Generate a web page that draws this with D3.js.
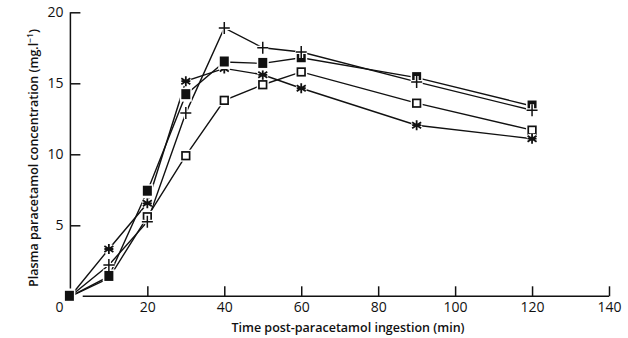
<!DOCTYPE html>
<html>
<head>
<meta charset="utf-8">
<script src="https://cdn.jsdelivr.net/npm/d3@7"></script>
<style>
  html, body { margin: 0; padding: 0; background: #fff; }
  svg { display: block; }
  text { font-family: "Open Sans", "DejaVu Sans", sans-serif; fill: #111; }
</style>
</head>
<body>
<svg id="chart" width="628" height="338"></svg>
<script>
// Sampling times (min)
const times = [0, 10, 20, 30, 40, 50, 60, 90, 120];

// Plasma paracetamol concentration (mg/l) for each treatment group
const filledSquare = [0, 1.4, 7.4, 14.2, 16.5, 16.4, 16.8, 15.4, 13.4];
const plusSign     = [0, 2.2, 5.25, 12.9, 18.9, 17.5, 17.2, 15.1, 13.1];
const openSquare   = [0, 1.27, 5.6, 9.9, 13.8, 14.9, 15.8, 13.6, 11.7];
const asterisk     = [0, 3.33, 6.55, 15.15, 16.05, 15.6, 14.65, 12.05, 11.1];

// Axis ticks
const xTicks = [20, 40, 60, 80, 100, 120, 140];
const yTicks = [5, 10, 15, 20];

const xLabel = "Time post-paracetamol ingestion (min)";
const yLabel = "Plasma paracetamol concentration (mg.l";

const svg = d3.select("#chart");

const x = d3.scaleLinear().domain([0, 140]).range([70.4, 609]);
const y = d3.scaleLinear().domain([0, 20]).range([296.3, 12.3]);

// Axes: ticks point inward, domain lines drawn separately
const xAxis = svg.append("g")
  .attr("transform", `translate(0,${y(0)})`)
  .call(d3.axisBottom(x).tickValues(xTicks).tickSizeInner(-10).tickSizeOuter(0).tickPadding(6));
const yAxis = svg.append("g")
  .attr("transform", `translate(${x(0)},0)`)
  .call(d3.axisLeft(y).tickValues(yTicks).tickSizeInner(-10).tickSizeOuter(0).tickPadding(7));

[xAxis, yAxis].forEach(g => {
  g.select(".domain").remove();
  g.selectAll(".tick line").attr("stroke", "#111").attr("stroke-width", 1.5);
  g.selectAll(".tick text").attr("font-size", 14).attr("fill", "#111");
});

svg.append("line")
  .attr("x1", x(0)).attr("x2", x(0))
  .attr("y1", y(20)).attr("y2", y(0.55))
  .attr("stroke", "#111").attr("stroke-width", 1.5);
svg.append("line")
  .attr("x1", x(3.2)).attr("x2", x(140))
  .attr("y1", y(0)).attr("y2", y(0))
  .attr("stroke", "#111").attr("stroke-width", 1.5);

// Shared origin label
svg.append("text")
  .attr("x", x(0) - 11).attr("y", y(0) + 16)
  .attr("text-anchor", "middle")
  .attr("font-size", 14)
  .text("0");

// Axis titles
svg.append("text")
  .attr("x", 348).attr("y", 332)
  .attr("text-anchor", "middle")
  .attr("font-size", 12.5)
  .attr("font-weight", 600)
  .text(xLabel);

const yt = svg.append("text")
  .attr("transform", "translate(38,158) rotate(-90)")
  .attr("text-anchor", "middle")
  .attr("font-size", 12.5)
  .attr("font-weight", 600);
yt.append("tspan").text(yLabel);
yt.append("tspan").attr("font-size", 8.5).attr("dy", -5).text("\u22121");
yt.append("tspan").attr("dy", 5).text(")");

// Series
const series = [
  { name: "open", values: openSquare },
  { name: "star", values: asterisk },
  { name: "filled", values: filledSquare },
  { name: "plus", values: plusSign }
];

const line = d3.line().x(d => x(d[0])).y(d => y(d[1]));

const plot = svg.append("g");
series.forEach(s => {
  plot.append("path")
    .datum(times.map((t, i) => [t, s.values[i]]))
    .attr("d", line)
    .attr("fill", "none")
    .attr("stroke", "#111")
    .attr("stroke-width", 1.4);
});

function marker(g, type, cx, cy) {
  const m = g.append("g").attr("transform", `translate(${cx},${cy})`);
  if (type === "filled") {
    m.append("rect").attr("x", -6).attr("y", -7).attr("width", 12).attr("height", 14).attr("fill", "#fff");
    m.append("rect").attr("x", -4.5).attr("y", -5.5).attr("width", 9).attr("height", 10).attr("fill", "#111");
  } else if (type === "open") {
    m.append("rect").attr("x", -6).attr("y", -6).attr("width", 12).attr("height", 12).attr("fill", "#fff");
    m.append("rect").attr("x", -3.8).attr("y", -3.8).attr("width", 7.6).attr("height", 7.6)
      .attr("fill", "#fff").attr("stroke", "#111").attr("stroke-width", 1.7);
  } else if (type === "plus") {
    const p = "M-5.5,0H5.5M0,-6V6";
    m.append("path").attr("d", p).attr("stroke", "#fff").attr("stroke-width", 4);
    m.append("path").attr("d", p).attr("stroke", "#111").attr("stroke-width", 1.5);
  } else if (type === "star") {
    const p = "M0,-5V5M-4.5,-3L4.5,3M-4.5,3L4.5,-3M-4.5,0H4.5";
    m.append("path").attr("d", p).attr("stroke", "#fff").attr("stroke-width", 4.5);
    m.append("path").attr("d", p).attr("stroke", "#111").attr("stroke-width", 1.8);
  }
}

series.forEach(s => {
  const g = plot.append("g").attr("class", "marks-" + s.name);
  times.forEach((t, i) => {
    if (t === 0) return;
    marker(g, s.name, x(t), y(s.values[i]));
  });
});

// Common starting point at the origin
marker(plot, "filled", x(0) - 1, y(0));
</script>
</body>
</html>
